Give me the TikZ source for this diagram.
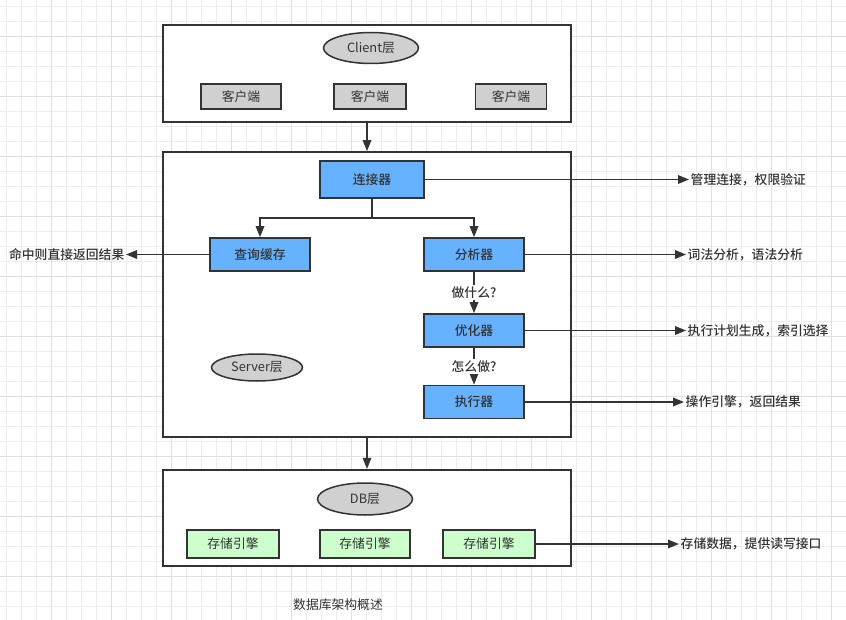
\documentclass[tikz,border=0pt]{standalone}
\usepackage{fontspec}
\setmainfont{Noto Sans CJK SC}[BoldFont={Noto Sans CJK SC Medium}]
\usetikzlibrary{arrows.meta, positioning, shapes.geometric}

\definecolor{linegray}{HTML}{333333}
\definecolor{tagfill}{HTML}{D0D0D0}
\definecolor{moduleblue}{HTML}{66B2FF}
\definecolor{enginegreen}{HTML}{CCFFCC}
\definecolor{gridminor}{HTML}{EDEDED}
\definecolor{gridmajor}{HTML}{E0E0E0}

\begin{document}
\begin{tikzpicture}[
    x=1pt, y=-1pt,
    every node/.style={align=center, text=linegray, font=\fontsize{12.8}{15}\selectfont},
    layer/.style={rectangle, draw=linegray, line width=1.7pt, fill=white, minimum width=408pt, inner sep=0pt},
    tag/.style={ellipse, draw=linegray, line width=1.5pt, fill=tagfill, inner sep=0pt},
    client/.style={rectangle, draw=linegray, line width=1.7pt, fill=tagfill, minimum height=25pt, inner sep=0pt},
    module/.style={rectangle, draw=linegray, line width=1.7pt, fill=moduleblue, minimum width=100pt, minimum height=33pt, inner sep=0pt, font=\fontsize{12.8}{15}\selectfont\bfseries},
    engine/.style={rectangle, draw=linegray, line width=1.7pt, fill=enginegreen, minimum height=28pt, inner sep=0pt},
    note/.style={inner sep=1.5pt, font=\fontsize{12.8}{15}\selectfont\bfseries},
    arrow/.style={-{Triangle[length=11pt, width=8.5pt]}, line width=1.7pt, draw=linegray},
    link/.style={line width=1.7pt, draw=linegray}
]
\useasboundingbox (0,0) rectangle (846,620);

% Background grid
\foreach \gx in {6.7,21.7,...,840} \draw[gridminor, line width=0.9pt] (\gx,0) -- (\gx,620);
\foreach \gy in {6.7,21.7,...,615} \draw[gridminor, line width=0.9pt] (0,\gy) -- (846,\gy);
\foreach \gx in {51.7,111.7,...,840} \draw[gridmajor, line width=0.9pt] (\gx,0) -- (\gx,620);
\foreach \gy in {36.7,96.7,...,615} \draw[gridmajor, line width=0.9pt] (0,\gy) -- (846,\gy);

% Layer 1: Client
\node[layer, minimum height=97pt] (clientlayer) at (367,73.5) {};
\node[tag, minimum width=95pt, minimum height=31pt] (clienttag) at (371,48) {Client层};
\node[client, minimum width=80pt] (client1) at (241,96.5) {客户端};
\node[client, minimum width=72pt] (client2) at (370,96.5) {客户端};
\node[client, minimum width=71pt] (client3) at (511,96.5) {客户端};

% Layer 2: Server
\node[layer, minimum height=285pt] (serverlayer) at (367,294.5) {};
\node[tag, minimum width=91pt, minimum height=27pt] (servertag) at (257,367.5) {Server层};
\node[module, minimum width=104pt, minimum height=37pt] (connector) at (372,179.5) {连接器};
\node[module] (cache) at (260,254.5) {查询缓存};
\node[module] (parser) at (474,254.5) {分析器};
\node[module] (optimizer) at (474,330.5) {优化器};
\node[module] (executor) at (474,402) {执行器};

% Layer 3: DB
\node[layer, minimum height=96.5pt] (dblayer) at (367,518) {};
\node[tag, minimum width=95pt, minimum height=32pt] (dbtag) at (365,499) {DB层};
\node[engine, minimum width=92.6pt] (engine1) at (233,544) {存储引擎};
\node[engine, minimum width=90pt] (engine2) at (365,544) {存储引擎};
\node[engine, minimum width=91.5pt] (engine3) at (489,544) {存储引擎};

% Side notes
\node[note, anchor=west] (connnote) at (689,179.5) {管理连接，权限验证};
\node[note, anchor=west] (parsenote) at (686,254.5) {词法分析，语法分析};
\node[note, anchor=west] (optnote) at (686,330.5) {执行计划生成，索引选择};
\node[note, anchor=west] (execnote) at (684,402) {操作引擎，返回结果};
\node[note, anchor=west] (storenote) at (679,544) {存储数据，提供读写接口};
\node[note, anchor=east] (hitnote) at (126,254.5) {命中则直接返回结果};

% Caption
\node (caption) at (338,605) {数据库架构概述};

% Arrows
\draw[arrow] (clientlayer) -- (serverlayer);
\draw[arrow] (serverlayer) -- (dblayer);
\draw[link] (connector.south) -- ++(0,19) coordinate (split);
\draw[arrow] (split) -| (cache);
\draw[arrow] (split) -| (parser);
\draw[arrow] (parser) -- (optimizer) node[midway, note, fill=white] {做什么?};
\draw[arrow] (optimizer) -- (executor) node[midway, note, fill=white] {怎么做?};
\draw[arrow] (connector) -- (connnote);
\draw[arrow] (parser) -- (parsenote);
\draw[arrow] (optimizer) -- (optnote);
\draw[arrow] (executor) -- (execnote);
\draw[arrow] (engine3) -- (storenote);
\draw[arrow] (cache) -- (hitnote);

\end{tikzpicture}
\end{document}
